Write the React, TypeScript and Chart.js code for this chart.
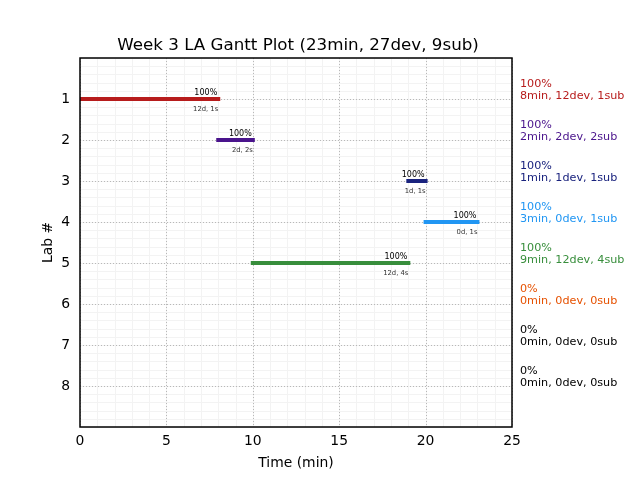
import { useEffect, useRef } from "react";
import { Chart, registerables } from "chart.js";

Chart.register(...registerables);

const weekLabel = "Week 3 LA";
const labs = [1, 2, 3, 4, 5, 6, 7, 8];
const starts = [0, 8, 19, 20, 10, 0, 0, 0];
const durations = [8, 2, 1, 3, 9, 0, 0, 0];
const devs = [12, 2, 1, 0, 12, 0, 0, 0];
const subs = [1, 2, 1, 1, 4, 0, 0, 0];
const percents = [100, 100, 100, 100, 100, 0, 0, 0];
const colors = ["#b71c1c", "#4a148c", "#1a237e", "#2196f3", "#388e3c", "#e65100", "#000000", "#000000"];
const xTicks = [0, 5, 10, 15, 20, 25];
const xMinorStep = 1;
const yMinorStep = 0.2;

const FONT = "'DejaVu Sans', sans-serif";

const totalMin = durations.reduce((a, b) => a + b, 0);
const totalDev = devs.reduce((a, b) => a + b, 0);
const totalSub = subs.reduce((a, b) => a + b, 0);
const title = `${weekLabel} Gantt Plot (${totalMin}min, ${totalDev}dev, ${totalSub}sub)`;

const ganttPlugin = {
  id: "gantt",
  beforeDatasetsDraw(chart: any) {
    const { ctx, chartArea: a, scales } = chart;
    const xs = scales.x;
    const ys = scales.y;
    ctx.save();
    // minor grid
    ctx.strokeStyle = "#f3f3f3";
    ctx.lineWidth = 1;
    ctx.setLineDash([]);
    for (let v = xs.min; v <= xs.max + 1e-9; v += xMinorStep) {
      const px = Math.round(xs.getPixelForValue(v)) + 0.5;
      ctx.beginPath();
      ctx.moveTo(px, a.top);
      ctx.lineTo(px, a.bottom);
      ctx.stroke();
    }
    for (let v = ys.min; v <= ys.max + 1e-9; v += yMinorStep) {
      const py = Math.round(ys.getPixelForValue(v)) + 0.5;
      ctx.beginPath();
      ctx.moveTo(a.left, py);
      ctx.lineTo(a.right, py);
      ctx.stroke();
    }
    // major grid
    ctx.strokeStyle = "#b8b8b8";
    ctx.setLineDash([1, 2]);
    xTicks.forEach((v) => {
      const px = Math.round(xs.getPixelForValue(v)) + 0.5;
      ctx.beginPath();
      ctx.moveTo(px, a.top);
      ctx.lineTo(px, a.bottom);
      ctx.stroke();
    });
    labs.forEach((v) => {
      const py = Math.round(ys.getPixelForValue(v)) + 0.5;
      ctx.beginPath();
      ctx.moveTo(a.left, py);
      ctx.lineTo(a.right, py);
      ctx.stroke();
    });
    ctx.restore();
  },
  afterDatasetsDraw(chart: any) {
    const { ctx, chartArea: a, scales } = chart;
    const xs = scales.x;
    const ys = scales.y;
    ctx.save();
    // frame
    ctx.strokeStyle = "#000";
    ctx.lineWidth = 1.5;
    ctx.setLineDash([]);
    ctx.strokeRect(a.left, a.top, a.right - a.left, a.bottom - a.top);

    // bar labels
    labs.forEach((lab, i) => {
      if (durations[i] <= 0) return;
      const ex = xs.getPixelForValue(starts[i] + durations[i]);
      const py = ys.getPixelForValue(lab);
      ctx.textAlign = "right";
      ctx.textBaseline = "alphabetic";
      ctx.fillStyle = "#000";
      ctx.font = `8px ${FONT}`;
      ctx.fillText(`${percents[i]}%`, ex - 1, py - 4);
      ctx.fillStyle = "#333";
      ctx.font = `6.8px ${FONT}`;
      ctx.fillText(`${devs[i]}d, ${subs[i]}s`, ex, py + 12);
    });

    // right side summaries
    labs.forEach((lab, i) => {
      const py = ys.getPixelForValue(lab);
      ctx.textAlign = "left";
      ctx.textBaseline = "alphabetic";
      ctx.fillStyle = colors[i];
      ctx.font = `11.2px ${FONT}`;
      ctx.fillText(`${percents[i]}%`, a.right + 8, py - 12.5);
      ctx.fillText(`${durations[i]}min, ${devs[i]}dev, ${subs[i]}sub`, a.right + 8, py);
    });

    // title
    ctx.fillStyle = "#000";
    ctx.textAlign = "center";
    ctx.textBaseline = "alphabetic";
    ctx.font = `16.7px ${FONT}`;
    ctx.fillText(title, (a.left + a.right) / 2 + 2, a.top - 8);

    // axis titles
    ctx.font = `13.9px ${FONT}`;
    ctx.fillText("Time (min)", (a.left + a.right) / 2, 467);
    ctx.save();
    ctx.translate(48, (a.top + a.bottom) / 2);
    ctx.rotate(-Math.PI / 2);
    ctx.textBaseline = "middle";
    ctx.fillText("Lab #", 0, 0);
    ctx.restore();
    ctx.restore();
  },
};

export default function App() {
  const ref = useRef<HTMLCanvasElement | null>(null);
  useEffect(() => {
    if (!ref.current) return;
    const datasets = labs
      .map((lab, i) => ({ lab, i }))
      .filter(({ i }) => durations[i] > 0)
      .map(({ lab, i }) => ({
        label: `Lab ${lab}`,
        data: [
          { x: starts[i], y: lab },
          { x: starts[i] + durations[i], y: lab },
        ],
        borderColor: colors[i],
        backgroundColor: colors[i],
        borderWidth: 4,
        borderCapStyle: "square" as const,
        pointRadius: 0,
        pointHoverRadius: 0,
        showLine: true,
      }));
    const chart = new Chart(ref.current, {
      type: "scatter",
      data: { datasets },
      options: {
        animation: false,
        responsive: false,
        devicePixelRatio: 1,
        layout: { padding: { top: 58, right: 128, left: 0, bottom: 0 } },
        plugins: { legend: { display: false }, tooltip: { enabled: false }, title: { display: false } },
        scales: {
          x: {
            type: "linear",
            min: 0,
            max: 25,
            afterBuildTicks: (s: any) => {
              s.ticks = xTicks.map((v) => ({ value: v }));
            },
            afterFit: (s: any) => {
              s.height = 53;
            },
            grid: { display: false, drawTicks: false },
            border: { display: false },
            ticks: { color: "#000", font: { family: FONT, size: 13.9 }, padding: 6, maxRotation: 0, autoSkip: false },
          },
          y: {
            type: "linear",
            min: 0,
            max: 9,
            reverse: true,
            afterBuildTicks: (s: any) => {
              s.ticks = labs.map((v) => ({ value: v }));
            },
            afterFit: (s: any) => {
              s.width = 80;
            },
            grid: { display: false, drawTicks: false },
            border: { display: false },
            ticks: { color: "#000", font: { family: FONT, size: 13.9 }, padding: 10, autoSkip: false },
          },
        },
      },
      plugins: [ganttPlugin],
    });
    return () => chart.destroy();
  }, []);
  return (
    <div style={{ position: "absolute", left: 0, top: 0, width: 640, height: 480, background: "#fff" }}>
      <canvas ref={ref} width={640} height={480} />
    </div>
  );
}
